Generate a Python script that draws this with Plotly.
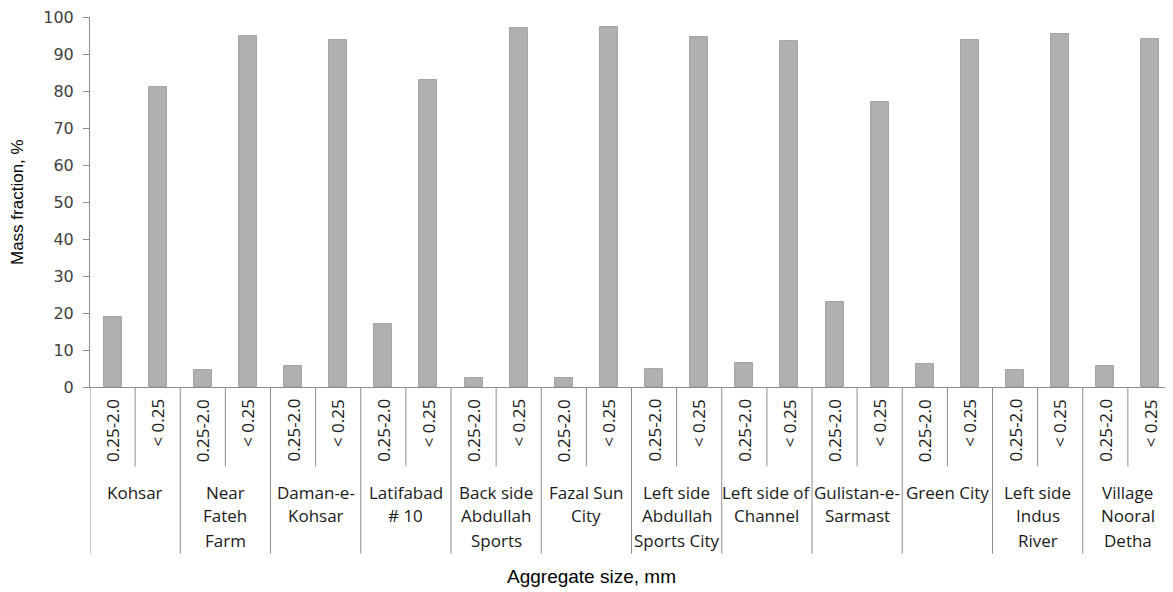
import plotly.graph_objects as go

# site labels (line breaks as in the original axis) and values
sites = [
    "Kohsar", "Near\nFateh\nFarm", "Daman-e-\nKohsar", "Latifabad\n# 10",
    "Back side\nAbdullah\nSports", "Fazal Sun\nCity", "Left side\nAbdullah\nSports City",
    "Left side of\nChannel", "Gulistan-e-\nSarmast", "Green City",
    "Left side\nIndus\nRiver", "Village\nNooral\nDetha",
]
size_labels = ["0.25-2.0", "< 0.25"]
frac_coarse = [19, 4.5, 5.7, 16.9, 2.5, 2.5, 4.9, 6.5, 22.9, 6.1, 4.5, 5.6]
frac_fine = [81, 95, 93.8, 83, 97, 97.4, 94.6, 93.4, 77, 93.8, 95.4, 94.1]

# the page body adds an 8px margin, so the figure is drawn from (8, 8)
OFF = 8
W, H = 1173 - OFF, 592 - OFF
ML, MR, MT, MB = 90 - OFF, 0, 14 - OFF, 205
plot_h = H - MT - MB
plot_w = W - ML - MR

def py(px_below):
    # pixels below the x axis -> paper y
    return -px_below / plot_h

def px(x_page):
    # page x pixel -> paper x
    return (x_page - OFF - ML) / plot_w

axis_col = "#8c8c8c"
bar_col = "#b0b0b0"
cat_font = dict(family="Open Sans", size=17, color="#1a1a1a")

n = len(sites)
x_coarse = [2 * i for i in range(n)]
x_fine = [2 * i + 1 for i in range(n)]

fig = go.Figure()
fig.add_trace(go.Bar(x=x_coarse, y=frac_coarse, width=0.4, name=size_labels[0],
                     marker=dict(color=bar_col, line=dict(color="#a4a4a4", width=1))))
fig.add_trace(go.Bar(x=x_fine, y=frac_fine, width=0.4, name=size_labels[1],
                     marker=dict(color=bar_col, line=dict(color="#a4a4a4", width=1))))

# --- category separators (two-level axis, Excel style)
for i in range(n):
    # short line between the two size classes
    fig.add_shape(type="line", xref="x", yref="paper", x0=2 * i + 0.5, x1=2 * i + 0.5,
                  y0=0, y1=py(80), line=dict(color=axis_col, width=1))
for i in range(n + 1):
    # full-height line between sites
    fig.add_shape(type="line", xref="x", yref="paper", x0=2 * i - 0.5, x1=2 * i - 0.5,
                  y0=0, y1=py(168), line=dict(color=axis_col, width=1))

# --- inner labels (rotated)
for i in range(n):
    for j, lab in enumerate(size_labels):
        fig.add_annotation(x=2 * i + j, y=py(10), xref="x", yref="paper", text=lab,
                           textangle=-90, showarrow=False, xanchor="center", yanchor="top",
                           font=cat_font)

# --- outer labels (site names)
line_y = [106, 130, 155]
for i, s in enumerate(sites):
    for k, line in enumerate(s.split("\n")):
        fig.add_annotation(x=2 * i + 0.5, y=py(line_y[k]), xref="x", yref="paper", text=line,
                           showarrow=False, xanchor="center", yanchor="middle", font=cat_font)

# --- axis titles
fig.add_annotation(x=px(591), y=py(191), xref="paper", yref="paper",
                   text="Aggregate size, mm", showarrow=False, xanchor="center", yanchor="middle",
                   font=dict(family="Arial", size=19, color="black"))
fig.add_annotation(x=px(17), y=0.5, xref="paper", yref="paper",
                   text="Mass fraction, %", textangle=-90, showarrow=False,
                   xanchor="center", yanchor="middle",
                   font=dict(family="Arial", size=17, color="black"))

fig.update_layout(
    width=W, height=H,
    margin=dict(l=ML, r=MR, t=MT, b=MB),
    plot_bgcolor="white", paper_bgcolor="white",
    showlegend=False,
    bargap=0,
)

fig.update_yaxes(
    range=[0, 100], dtick=10, showgrid=False, zeroline=False,
    showline=True, linecolor=axis_col, linewidth=1,
    ticks="outside", ticklen=6, tickcolor=axis_col,
    tickfont=dict(family="DejaVu Sans", size=16, color="#404040"),
    ticklabelstandoff=6, ticklabeloverflow="allow",
)
fig.update_xaxes(
    range=[-0.5, 2 * n - 0.5], showgrid=False, zeroline=False,
    showline=True, linecolor=axis_col, linewidth=1,
    showticklabels=False, ticks="",
)

fig.write_html("out.html")
